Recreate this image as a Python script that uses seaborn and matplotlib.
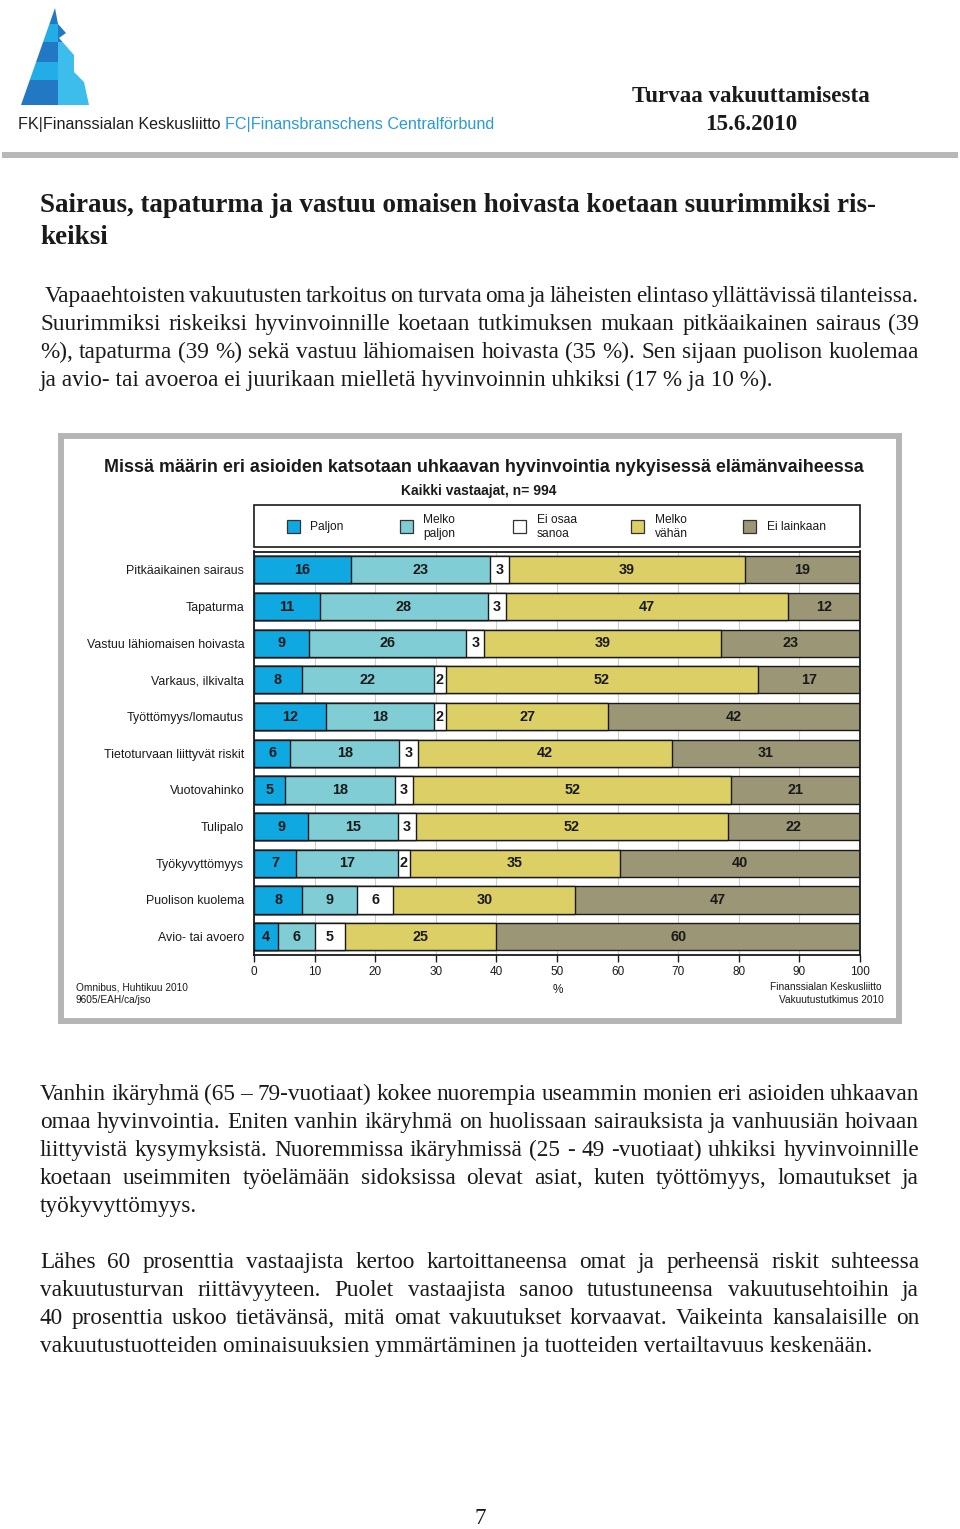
import numpy as np
import pandas as pd
import matplotlib
matplotlib.use("Agg")
import matplotlib.pyplot as plt
import seaborn as sns
from matplotlib.patches import Rectangle, Polygon
from matplotlib import font_manager as fm

# ---------------- data ----------------
categories = ["Pitkäaikainen sairaus", "Tapaturma", "Vastuu lähiomaisen hoivasta",
              "Varkaus, ilkivalta", "Työttömyys/lomautus", "Tietoturvaan liittyvät riskit",
              "Vuotovahinko", "Tulipalo", "Työkyvyttömyys", "Puolison kuolema",
              "Avio- tai avoero"]
paljon = [16, 11, 9, 8, 12, 6, 5, 9, 7, 8, 4]
melko_paljon = [23, 28, 26, 22, 18, 18, 18, 15, 17, 9, 6]
ei_osaa_sanoa = [3, 3, 3, 2, 2, 3, 3, 3, 2, 6, 5]
melko_vahan = [39, 47, 39, 52, 27, 42, 52, 52, 35, 30, 25]
ei_lainkaan = [19, 12, 23, 17, 42, 31, 21, 22, 40, 47, 60]
series_labels = ["Paljon", "Melko\npaljon", "Ei osaa\nsanoa", "Melko\nvähän", "Ei lainkaan"]
x_ticks = [0, 10, 20, 30, 40, 50, 60, 70, 80, 90, 100]

colors = ["#0fa8e1", "#80cdd6", "#ffffff", "#dccf66", "#9b9676"]

# ---------------- setup ----------------
sns.set_theme(style="white")
names = {f.name for f in fm.fontManager.ttflist}
NARROW = "Liberation Sans Narrow" if "Liberation Sans Narrow" in names else "Liberation Sans"
SERIF = "Liberation Serif"
plt.rcParams["font.family"] = [NARROW, "DejaVu Sans"]

W, H = 960, 1529
fig = plt.figure(figsize=(W / 100, H / 100), dpi=100)
fig.patch.set_facecolor("white")
renderer = fig.canvas.get_renderer()

bg = fig.add_axes([0, 0, 1, 1])
bg.set_xlim(0, W)
bg.set_ylim(H, 0)
bg.axis("off")
bg.patch.set_visible(False)


def width_of(s, size, family, weight="normal"):
    t = bg.text(0, 0, s, fontsize=size, family=family, fontweight=weight)
    w = t.get_window_extent(renderer).width
    t.remove()
    return w


def fit(s, target, family, weight="normal"):
    return 10 * target / width_of(s, 10, family, weight)


def justify(line, x0, x1, yb, size, family, weight="normal", color="#1a1a1a"):
    words = line.split()
    ws = [width_of(w, size, family, weight) for w in words]
    gap = (x1 - x0 - sum(ws)) / (len(words) - 1)
    x = x0
    for w, wd in zip(words, ws):
        bg.text(x, yb, w, ha="left", va="baseline", fontsize=size, family=family,
                fontweight=weight, color=color)
        x += wd + gap


# ---------------- header ----------------
sil = Polygon([(55, 8), (58, 24), (66, 33), (59, 38), (74, 55), (74, 72), (84, 82),
               (89, 105), (21, 105)], closed=True, facecolor="none", edgecolor="none")
bg.add_patch(sil)
dark, mid, light = "#2378c4", "#23ade6", "#3dbdec"
bands = [(0, 24, dark, dark), (24, 42, mid, dark), (42, 62, dark, light),
         (62, 80, mid, light), (80, 110, dark, light)]
for y0, y1, cl, cr in bands:
    for xa, xb, c in [(0, 57.5, cl), (57.5, 100, cr)]:
        p = Polygon([(xa, y0), (xb, y0), (xb, y1), (xa, y1)], closed=True,
                    facecolor=c, edgecolor="none")
        bg.add_patch(p)
        p.set_clip_path(sil)

s1 = "FK|Finanssialan Keskusliitto "
s2 = "FC|Finansbranschens Centralförbund"
ls = fit(s1 + s2, 477, NARROW)
bg.text(18, 125, s1, ha="left", va="center", fontsize=ls, family=NARROW, color="#1e1e1e")
w1 = width_of(s1, ls, NARROW)
bg.text(18 + w1, 125, s2, ha="left", va="center", fontsize=ls, family=NARROW, color="#2a9bd5")

hs = fit("Turvaa vakuuttamisesta", 239, SERIF, "bold")
bg.text(751, 97, "Turvaa vakuuttamisesta", ha="center", va="center", fontsize=hs,
        family=SERIF, fontweight="bold", color="#1a1a1a")
bg.text(751, 125, "15.6.2010", ha="center", va="center", fontsize=hs,
        family=SERIF, fontweight="bold", color="#1a1a1a")
bg.add_patch(Rectangle((2, 152), 956, 6, facecolor="#b8b8b8", edgecolor="none"))

# ---------------- page title and text ----------------
t1 = "Sairaus, tapaturma ja vastuu omaisen hoivasta koetaan suurimmiksi ris-"
ts = fit(t1, 840, SERIF, "bold")
bg.text(40, 205, t1, ha="left", va="center", fontsize=ts, family=SERIF, fontweight="bold", color="#1a1a1a")
bg.text(40, 237, "keiksi", ha="left", va="center", fontsize=ts, family=SERIF, fontweight="bold", color="#1a1a1a")

bs = 0.5 * (fit("ja avio- tai avoeroa ei juurikaan mielletä hyvinvoinnin uhkiksi (17 % ja 10 %).", 733, SERIF)
            + fit("vakuutustuotteiden ominaisuuksien ymmärtäminen ja tuotteiden vertailtavuus keskenään.", 831, SERIF))
base_off = 0.30 * bs * 100 / 72

p1 = [("Vapaaehtoisten vakuutusten tarkoitus on turvata oma ja läheisten elintaso yllättävissä tilanteissa.", True, 45),
      ("Suurimmiksi riskeiksi hyvinvoinnille koetaan tutkimuksen mukaan pitkäaikainen sairaus (39", True, 40),
      ("%), tapaturma (39 %) sekä vastuu lähiomaisen hoivasta (35 %). Sen sijaan puolison kuolemaa", True, 40),
      ("ja avio- tai avoeroa ei juurikaan mielletä hyvinvoinnin uhkiksi (17 % ja 10 %).", False, 40)]
p2 = [("Vanhin ikäryhmä (65 – 79-vuotiaat) kokee nuorempia useammin monien eri asioiden uhkaavan", True, 40),
      ("omaa hyvinvointia. Eniten vanhin ikäryhmä on huolissaan sairauksista ja vanhuusiän hoivaan", True, 40),
      ("liittyvistä kysymyksistä. Nuoremmissa ikäryhmissä (25 - 49 -vuotiaat) uhkiksi hyvinvoinnille", True, 40),
      ("koetaan useimmiten työelämään sidoksissa olevat asiat, kuten työttömyys, lomautukset ja", True, 40),
      ("työkyvyttömyys.", False, 40)]
p3 = [("Lähes 60 prosenttia vastaajista kertoo kartoittaneensa omat ja perheensä riskit suhteessa", True, 40),
      ("vakuutusturvan riittävyyteen. Puolet vastaajista sanoo tutustuneensa vakuutusehtoihin ja", True, 40),
      ("40 prosenttia uskoo tietävänsä, mitä omat vakuutukset korvaavat. Vaikeinta kansalaisille on", True, 40),
      ("vakuutustuotteiden ominaisuuksien ymmärtäminen ja tuotteiden vertailtavuus keskenään.", False, 40)]

for lines, y0 in [(p1, 295), (p2, 1093), (p3, 1261)]:
    for i, (ln, just, x0) in enumerate(lines):
        yb = y0 + 28 * i + base_off
        if just:
            size = bs
            while True:
                ws = sum(width_of(w, size, SERIF) for w in ln.split())
                gap = (919 - x0 - ws) / (len(ln.split()) - 1)
                if gap >= size * 100 / 72 * 0.15:
                    break
                size *= 0.98
            justify(ln, x0, 919, yb, size, SERIF)
        else:
            bg.text(x0, yb, ln, ha="left", va="baseline", fontsize=bs, family=SERIF, color="#1a1a1a")

bg.text(480, 1517 + base_off, "7", ha="center", va="baseline", fontsize=bs, family=SERIF, color="#1a1a1a")

# ---------------- chart frame, titles, legend ----------------
bg.add_patch(Rectangle((61, 436), 838, 585, facecolor="none", edgecolor="#b5b5b5", lw=4.3))
cts = fit("Missä määrin eri asioiden katsotaan uhkaavan hyvinvointia nykyisessä elämänvaiheessa",
          755, NARROW, "bold")
bg.text(483.5, 467, "Missä määrin eri asioiden katsotaan uhkaavan hyvinvointia nykyisessä elämänvaiheessa",
        ha="center", va="center", fontsize=cts, fontweight="bold", family=NARROW, color="#1a1a1a")
sts = fit("Kaikki vastaajat, n= 994", 155, NARROW, "bold")
bg.text(478.5, 491, "Kaikki vastaajat, n= 994", ha="center", va="center", fontsize=sts,
        fontweight="bold", family=NARROW, color="#1a1a1a")

bg.add_patch(Rectangle((254, 505), 606, 42, facecolor="white", edgecolor="#1a1a1a", lw=1.2))
lgs = fit("Ei lainkaan", 59, NARROW)
for k, (sx, tx) in enumerate([(293, 310), (406, 423), (519, 537), (637, 655), (749, 767)]):
    bg.add_patch(Rectangle((sx - 6.5, 520), 13, 13, facecolor=colors[k], edgecolor="#333333", lw=0.9))
    bg.text(tx, 527, series_labels[k], ha="left", va="center", fontsize=lgs, family=NARROW,
            color="#1a1a1a", linespacing=1.3)

# ---------------- bar chart ----------------
ax = fig.add_axes([254 / W, 1 - 955 / H, 606 / W, (955 - 551.5) / H])
vals = np.array([paljon, melko_paljon, ei_osaa_sanoa, melko_vahan, ei_lainkaan], dtype=float)
widths = vals / vals.sum(axis=0) * 100
cum = widths.cumsum(axis=0)
for k in reversed(range(5)):
    df = pd.DataFrame({"cat": categories, "value": cum[k]})
    sns.barplot(data=df, x="value", y="cat", order=categories, orient="h", color=colors[k],
                saturation=1, width=0.74, edgecolor="#1a1a1a", linewidth=1.0,
                errorbar=None, ax=ax)

vs = fit("16", 16, NARROW, "bold")
for i in range(len(categories)):
    for k in range(5):
        c = cum[k, i] - widths[k, i] / 2
        ax.text(c, i, str(int(vals[k, i])), ha="center", va="center", fontsize=vs,
                fontweight="bold", family=NARROW, color="#1a1a1a")

ax.set_xlim(0, 100)
ax.set_ylim(len(categories) - 0.5, -0.5)
ax.set_xticks(x_ticks)
ax.set_xticklabels([str(t) for t in x_ticks])
ax.set_xlabel("")
ax.set_ylabel("")
tks = fit("100", 19.5, NARROW)
cs = fit("Vastuu lähiomaisen hoivasta", 157, NARROW)
ax.tick_params(axis="x", length=5, width=1, direction="out", pad=3, labelsize=tks,
               colors="#1a1a1a", bottom=True)
ax.tick_params(axis="y", length=0, pad=7, labelsize=cs, colors="#1a1a1a")
ax.xaxis.grid(True, color="#cfcfcf", lw=0.8)
ax.yaxis.grid(False)
ax.set_axisbelow(True)
for sp in ax.spines.values():
    sp.set_visible(True)
    sp.set_color("#1a1a1a")
    sp.set_linewidth(1.3)

bg.text(558, 990, "%", ha="center", va="center", fontsize=tks, family=NARROW, color="#1a1a1a")
fs = fit("Finanssialan Keskusliitto", 111, NARROW)
bg.text(76, 987, "Omnibus, Huhtikuu 2010", ha="left", va="center", fontsize=fs, family=NARROW, color="#1a1a1a")
bg.text(76, 1000, "9605/EAH/ca/jso", ha="left", va="center", fontsize=fs, family=NARROW, color="#1a1a1a")
bg.text(882, 987, "Finanssialan Keskusliitto", ha="right", va="center", fontsize=fs, family=NARROW, color="#1a1a1a")
bg.text(884, 1000, "Vakuutustutkimus 2010", ha="right", va="center", fontsize=fs, family=NARROW, color="#1a1a1a")

fig.savefig("out.png", dpi=100, facecolor="white")
